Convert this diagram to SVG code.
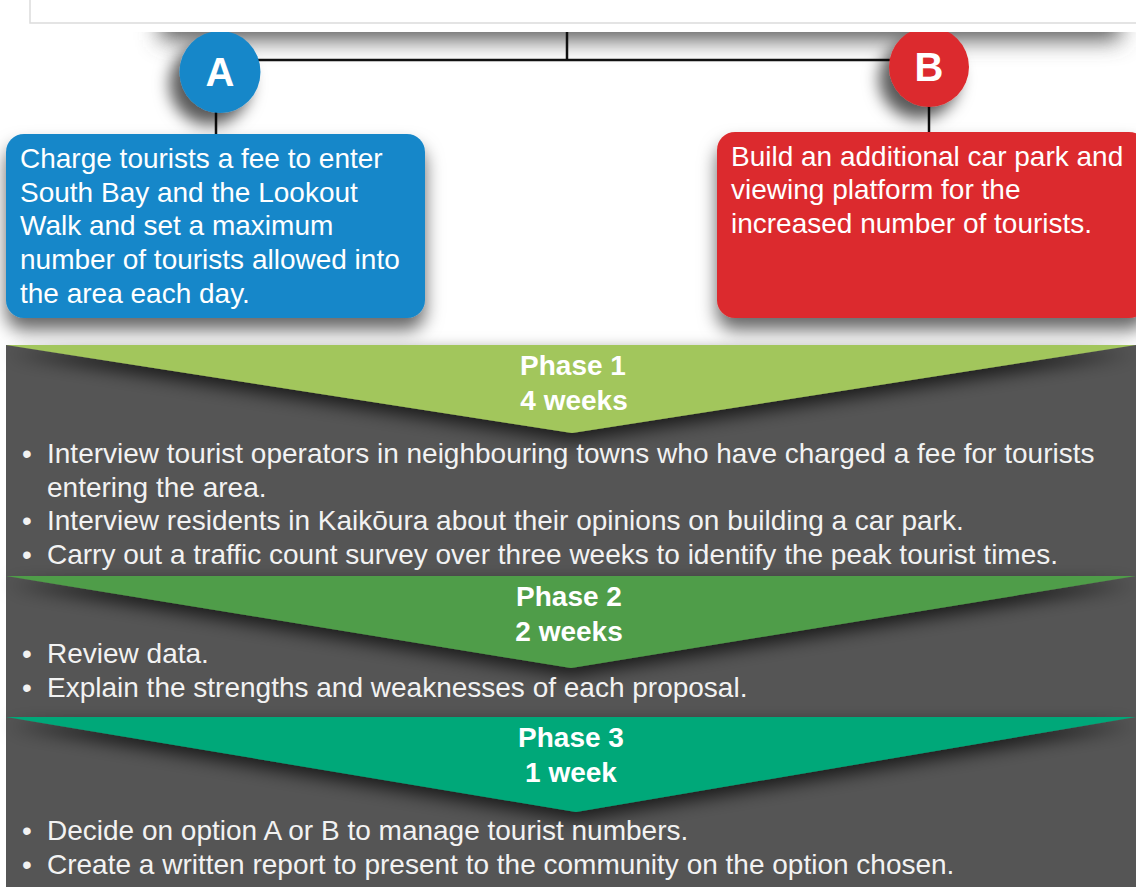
<svg xmlns="http://www.w3.org/2000/svg" width="1136" height="889" viewBox="0 0 1136 889">
<defs>
<style>
.box{font-family:"Liberation Sans",Arial,sans-serif;font-size:28px;fill:#fff}
.ph{font-family:"Liberation Sans",Arial,sans-serif;font-size:28px;font-weight:bold;fill:#fff;text-anchor:middle}
.bul{font-family:"Liberation Sans",Arial,sans-serif;font-size:28px;fill:#f2f2f2}
.lt{font-family:"Liberation Sans",Arial,sans-serif;font-size:40px;font-weight:bold;fill:#fff;text-anchor:middle}
.con{stroke:#111;stroke-width:2.5;fill:none}
</style>
<clipPath id="clipTop"><rect x="0" y="32" width="1136" height="857"/></clipPath>
<filter id="blurBand" x="-20%" y="-100%" width="140%" height="300%"><feGaussianBlur stdDeviation="11"/></filter>
<filter id="shCircle" x="-80%" y="-80%" width="260%" height="260%"><feDropShadow dx="-10" dy="12" stdDeviation="8" flood-color="#000" flood-opacity="0.65"/></filter>
<filter id="shBox" x="-10%" y="-20%" width="120%" height="160%"><feDropShadow dx="0" dy="12" stdDeviation="9" flood-color="#000" flood-opacity="0.6"/></filter>
<filter id="shTri" x="-10%" y="-20%" width="120%" height="160%"><feDropShadow dx="0" dy="8" stdDeviation="9" flood-color="#000" flood-opacity="0.7"/></filter>
</defs>
<rect width="1136" height="889" fill="#fff"/>
<path d="M30 0 V23 H1136" fill="none" stroke="#dcdcdc" stroke-width="1.5"/>
<g clip-path="url(#clipTop)">
<rect x="160" y="-10" width="960" height="50" fill="#5a5a5a" filter="url(#blurBand)"/>
<g id="connectors">
<line class="con" x1="567" y1="32" x2="567" y2="60"/>
<line class="con" x1="255" y1="60" x2="895" y2="60"/>
<line class="con" x1="216" y1="100" x2="216" y2="136"/>
<line class="con" x1="929" y1="100" x2="929" y2="133"/>
</g>
<g id="circleA">
<ellipse cx="220" cy="72" rx="40.5" ry="41" fill="#1787C9" filter="url(#shCircle)"/>
<text class="lt" x="220" y="86">A</text>
</g>
<g id="circleB">
<ellipse cx="929" cy="67" rx="40" ry="40" fill="#DC2C2D" filter="url(#shCircle)"/>
<text class="lt" x="929" y="81">B</text>
</g>
</g>
<g id="boxA">
<rect x="6" y="134" width="419" height="184" rx="18" fill="#1787C9" filter="url(#shBox)"/>
<text class="box" x="20" y="168">Charge tourists a fee to enter</text>
<text class="box" x="20" y="202">South Bay and the Lookout</text>
<text class="box" x="20" y="235">Walk and set a maximum</text>
<text class="box" x="20" y="269">number of tourists allowed into</text>
<text class="box" x="20" y="303">the area each day.</text>
</g>
<g id="boxB">
<rect x="717" y="132" width="430" height="186" rx="18" fill="#DC2C2D" filter="url(#shBox)"/>
<text class="box" x="731" y="166">Build an additional car park and</text>
<text class="box" x="731" y="199">viewing platform for the</text>
<text class="box" x="731" y="233">increased number of tourists.</text>
</g>
<rect x="6" y="345" width="1130" height="542" fill="#555555"/>
<g id="phase1">
<polygon points="6,345 1136,345 572,433" fill="#A2C65B" filter="url(#shTri)"/>
<text class="ph" x="573" y="375">Phase 1</text>
<text class="ph" x="574" y="410">4 weeks</text>
<text class="bul" x="22" y="463">•</text>
<text class="bul" x="47" y="463">Interview tourist operators in neighbouring towns who have charged a fee for tourists</text>
<text class="bul" x="47" y="497">entering the area.</text>
<text class="bul" x="22" y="530">•</text>
<text class="bul" x="47" y="530">Interview residents in Kaikōura about their opinions on building a car park.</text>
<text class="bul" x="22" y="564">•</text>
<text class="bul" x="47" y="564">Carry out a traffic count survey over three weeks to identify the peak tourist times.</text>
</g>
<g id="phase2">
<polygon points="6,576 1136,576 571,668" fill="#4F9D48" filter="url(#shTri)"/>
<text class="ph" x="569" y="606">Phase 2</text>
<text class="ph" x="569" y="641">2 weeks</text>
<text class="bul" x="22" y="663">•</text>
<text class="bul" x="47" y="663">Review data.</text>
<text class="bul" x="22" y="697">•</text>
<text class="bul" x="47" y="697">Explain the strengths and weaknesses of each proposal.</text>
</g>
<g id="phase3">
<polygon points="6,717 1136,717 576,812" fill="#00A879" filter="url(#shTri)"/>
<text class="ph" x="571" y="747">Phase 3</text>
<text class="ph" x="571" y="782">1 week</text>
<text class="bul" x="22" y="840">•</text>
<text class="bul" x="47" y="840">Decide on option A or B to manage tourist numbers.</text>
<text class="bul" x="22" y="874">•</text>
<text class="bul" x="47" y="874">Create a written report to present to the community on the option chosen.</text>
</g>
</svg>
